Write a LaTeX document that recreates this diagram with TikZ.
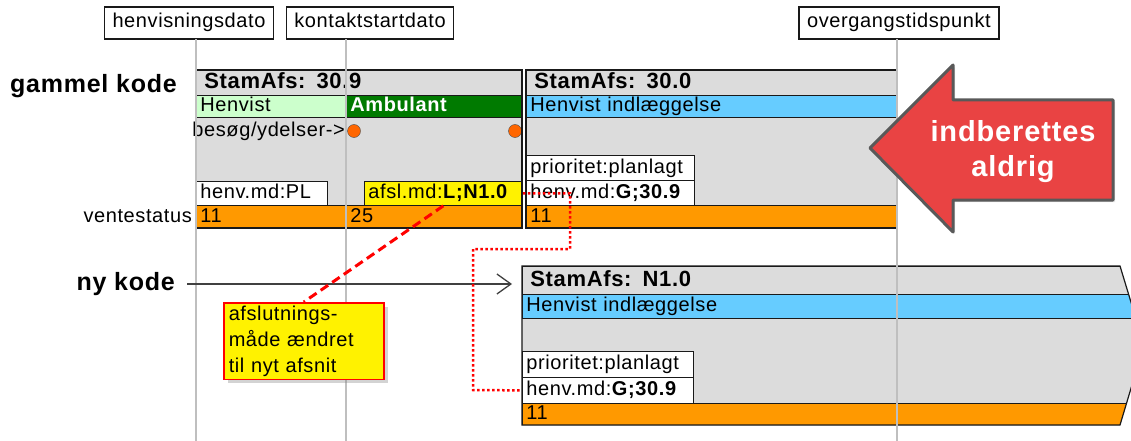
\documentclass[tikz,border=0pt]{standalone}
\usepackage{fontspec}
\setmainfont{Liberation Sans}[LetterSpace=3]
\usetikzlibrary{arrows.meta,shadows}

\definecolor{afsgray}{HTML}{DCDCDC}
\definecolor{henvgreen}{HTML}{CCFFCC}
\definecolor{ambgreen}{HTML}{007A00}
\definecolor{indlblue}{HTML}{66CCFF}
\definecolor{ventorange}{HTML}{FF9900}
\definecolor{visitorange}{HTML}{FF6600}
\definecolor{notered}{HTML}{FF0000}
\definecolor{arrowred}{HTML}{E94343}

\newcommand{\bodyfont}{\fontsize{20}{22}\selectfont}
\newcommand{\headfont}{\fontsize{22}{24}\selectfont\bfseries}
\newcommand{\kodefont}{\fontsize{25}{27}\selectfont\bfseries}

\begin{document}
\begin{tikzpicture}[x=1pt, y=-1pt,
  every node/.style={font=\bodyfont},
  datebox/.style={draw=black!90, line width=1.5pt, fill=white, minimum height=32pt, inner xsep=8pt, inner ysep=0pt, text height=14.5pt, text depth=4.5pt},
  block/.style={draw=black!90, line width=1.2pt},
  cell/.style={draw=black!90, line width=0.8pt, anchor=north west, align=left, inner xsep=4pt, inner ysep=0pt, text height=14.5pt, text depth=4pt},
  head/.style={cell, font=\headfont, inner xsep=8pt, text height=16pt},
  guide/.style={draw=black!25, line width=1.2pt},
  visit/.style={circle, draw=black!70, fill=visitorange, minimum size=13pt, inner sep=0pt},
  bigarrow/.style={fill=arrowred, draw=black!65, line width=3pt, line join=round, drop shadow={shadow xshift=2pt, shadow yshift=-2pt, opacity=0.2}},
  note/.style={draw=notered, line width=1.5pt, fill=yellow, align=left, text width=150pt, inner xsep=5pt, inner ysep=3pt, anchor=north west, font=\fontsize{20}{26}\selectfont, drop shadow={shadow xshift=4pt, shadow yshift=-4pt, opacity=0.35}},
  notelink/.style={draw=notered, line width=3pt, dash pattern=on 9pt off 5pt},
  movelink/.style={draw=notered, line width=2.5pt, dash pattern=on 2.5pt off 2.5pt},
  newarrow/.style={draw=black!75, line width=1.3pt, -{Straight Barb[length=14pt, width=20pt, line width=1.3pt]}}
]
\useasboundingbox (0,0) rectangle (1131,441);

% dates
\node[datebox] (hdato) at (189,23) {henvisningsdato};
\node[datebox] (kdato) at (370,23) {kontaktstartdato};
\node[datebox] (odato) at (899,23) {overgangstidspunkt};

\node[anchor=base west, font=\kodefont, inner sep=0pt] (gammel) at (10,93) {gammel kode};
\node[anchor=east, font=\kodefont, inner sep=0pt] (nykode) at (175,284) {ny kode};

% old code, first StamAfs
\fill[afsgray] (196,70) rectangle (522,228);
\node[head, text width=310pt, minimum height=25pt] (stam1) at (196,70) {StamAfs: 30.9};
\node[cell, fill=henvgreen, text width=142pt, minimum height=22pt] (henvist1) at (196,95) {Henvist};
\node[cell, fill=ambgreen, text=white, font=\bodyfont\bfseries, text width=168pt, minimum height=22pt] (ambulant1) at (346,95) {Ambulant};
\node[anchor=east, inner sep=1pt] (besog) at (346,131) {besøg/ydelser->};
\node[visit] (v1) at (354,131) {};
\node[visit] (v2) at (515,131) {};
\node[cell, fill=white, text width=123pt, minimum height=24pt] (henvmd1) at (196,181) {henv.md:PL};
\node[cell, fill=yellow, text width=150pt, minimum height=24pt] (afsl1) at (364,181) {afsl.md:\textbf{L;N1.0}};
\node[cell, fill=ventorange, text width=142pt, minimum height=23pt] (vent1a) at (196,205) {11};
\node[cell, fill=ventorange, text width=168pt, minimum height=23pt] (vent1b) at (346,205) {25};
\node[anchor=east, inner sep=1pt] (ventestatus) at (193,216) {ventestatus};
\draw[block] (196,70) rectangle (522,228);

% old code, second StamAfs
\fill[afsgray] (526,70) rectangle (897,228);
\node[head, text width=355pt, minimum height=25pt] (stam2) at (526,70) {StamAfs: 30.0};
\node[cell, fill=indlblue, text width=363pt, minimum height=22pt] (henvist2) at (526,95) {Henvist indlæggelse};
\node[cell, fill=white, text width=160pt, minimum height=25pt] (prio2) at (526,155) {prioritet:planlagt};
\node[cell, fill=white, text width=160pt, minimum height=25pt] (henvmd2) at (526,180) {henv.md:\textbf{G;30.9}};
\node[cell, fill=ventorange, text width=363pt, minimum height=23pt] (vent2) at (526,205) {11};
\draw[block] (526,70) rectangle (897,228);

% new code
\fill[afsgray] (522,266) -- (1120,266) -- (1144,345) -- (1120,425) -- (522,425) -- cycle;
\begin{scope}
  \clip (522,266) -- (1120,266) -- (1144,345) -- (1120,425) -- (522,425) -- cycle;
  \node[head, text width=624pt, minimum height=28pt] (stam3) at (522,266) {StamAfs: N1.0};
  \node[cell, fill=indlblue, text width=632pt, minimum height=24pt] (henvist3) at (522,294) {Henvist indlæggelse};
  \node[cell, fill=white, text width=163pt, minimum height=26pt] (prio3) at (522,351) {prioritet:planlagt};
  \node[cell, fill=white, text width=163pt, minimum height=26pt] (henvmd3) at (522,377) {henv.md:\textbf{G;30.9}};
  \node[cell, fill=ventorange, text width=632pt, minimum height=22pt] (vent3) at (522,403) {11};
\end{scope}
\draw[block] (522,266) -- (1120,266) -- (1144,345) -- (1120,425) -- (522,425) -- cycle;

\foreach \x in {196,346,897}
  \draw[guide] (\x,39) -- (\x,441);

\filldraw[bigarrow] (870,148) -- (953,65) -- (953,100) -- (1113,100) -- (1113,200) -- (953,200) -- (953,232) -- cycle;
\node[text=white, align=center, font=\fontsize{29}{35}\selectfont\bfseries] (aldrig) at (1013,152) {indberettes\\aldrig};

\draw[newarrow] ([xshift=12pt]nykode.east) -- ([xshift=-10pt]stam3.west |- nykode.east);

\node[note] (note) at (223,302) {afslutnings-\\måde ændret\\til nyt afsnit};
\draw[notelink] (afsl1.south) -- (note.north);
\draw[movelink] (afsl1.east) -| (570,249) -| (473,390) -- (henvmd3.west);
\end{tikzpicture}
\end{document}
